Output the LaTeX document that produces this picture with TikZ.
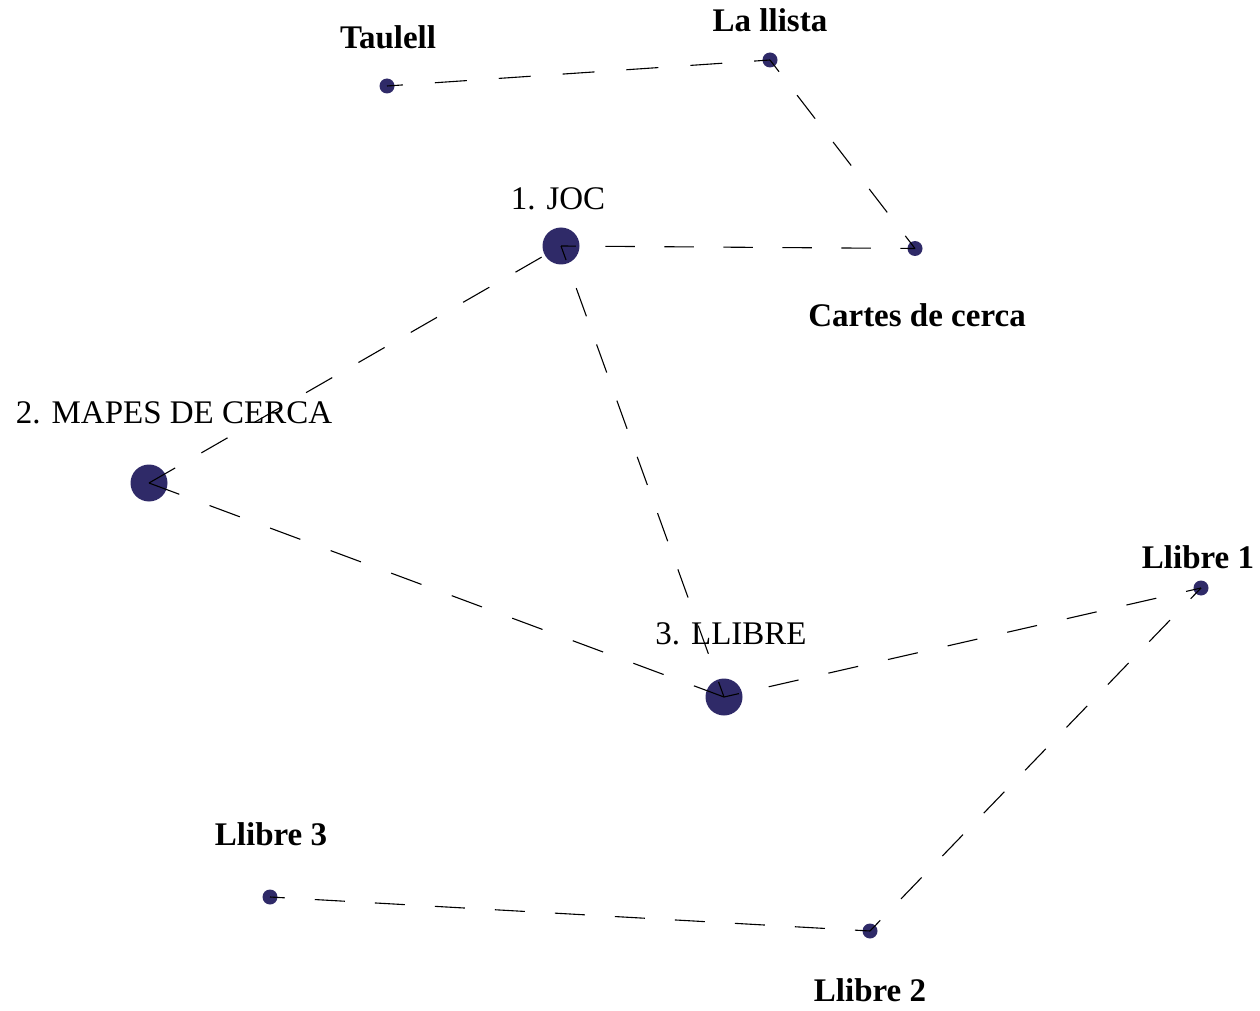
\documentclass[tikz,border=0pt]{standalone}
\usepackage{fontspec}
\setmainfont{Liberation Serif}
\definecolor{dotc}{RGB}{47,42,104}
\begin{document}
\begin{tikzpicture}[x=0.5pt,y=-0.5pt,
  bigdot/.style={circle,fill=dotc,minimum size=18.5pt,inner sep=0pt},
  smalldot/.style={circle,fill=dotc,minimum size=7.5pt,inner sep=0pt},
  biglab/.style={font=\fontsize{16.5}{19}\selectfont,anchor=base,inner sep=0pt},
  smalllab/.style={font=\fontsize{16.5}{19}\selectfont\bfseries,anchor=base,inner sep=0pt},
  link/.style={draw=black,line width=0.55pt}]
\useasboundingbox (0,0) rectangle (1260,1011);
% dots
\node[bigdot] (joc) at (561,246) {};
\node[bigdot] (mapes) at (149,483) {};
\node[bigdot] (llibre) at (724,697) {};
\node[smalldot] (taulell) at (387,86) {};
\node[smalldot] (llista) at (770,60) {};
\node[smalldot] (cartes) at (915,248.5) {};
\node[smalldot] (ll1) at (1201,588) {};
\node[smalldot] (ll2) at (870,931) {};
\node[smalldot] (ll3) at (270,897) {};
% labels
\node[biglab] (tjoc) at (558,210) {1. JOC};
\node[biglab] (tmapes) at (174,423) {2. MAPES DE CERCA};
\node[biglab] (tllibre) at (731,644) {3. LLIBRE};
\node[smalllab] (ttaulell) at (388,49) {Taulell};
\node[smalllab] (tllista) at (770,32) {La llista};
\node[smalllab] (tcartes) at (917,326) {Cartes de cerca};
\node[smalllab] (tll1) at (1198,568) {Llibre 1};
\node[smalllab] (tll2) at (870,1001) {Llibre 2};
\node[smalllab] (tll3) at (271,845) {Llibre 3};
% connectors
\draw[link,dash pattern=on 16pt off 16pt,dash phase=8pt] (taulell.center) -- (llista.center);
\draw[link,dash pattern=on 14.79pt off 14.79pt,dash phase=7.39pt] (llista.center) -- (cartes.center);
\draw[link,dash pattern=on 14.75pt off 14.75pt,dash phase=7.37pt] (joc.center) -- (cartes.center);
\draw[link,dash pattern=on 15.1pt off 15.1pt,dash phase=0pt] (mapes.center) -- (joc.center);
\draw[link,dash pattern=on 14.95pt off 14.95pt,dash phase=7.48pt] (joc.center) -- (llibre.center);
\draw[link,dash pattern=on 16.15pt off 16.15pt,dash phase=0pt] (mapes.center) -- (llibre.center);
\draw[link,dash pattern=on 15.29pt off 15.29pt,dash phase=7.65pt] (llibre.center) -- (ll1.center);
\draw[link,dash pattern=on 14.9pt off 14.9pt,dash phase=7.45pt] (ll1.center) -- (ll2.center);
\draw[link,dash pattern=on 15.03pt off 15.03pt,dash phase=7.51pt] (ll2.center) -- (ll3.center);
\end{tikzpicture}
\end{document}
